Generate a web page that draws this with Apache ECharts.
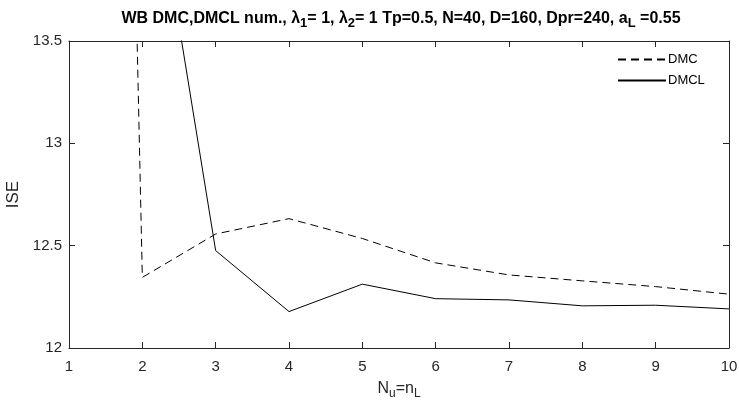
<!DOCTYPE html>
<html>
<head>
<meta charset="utf-8">
<script src="https://cdn.jsdelivr.net/npm/echarts@6/dist/echarts.min.js"></script>
<style>
  html, body { margin: 0; padding: 0; background: #fff; }
  #chart { width: 739px; height: 402px; }
</style>
</head>
<body>
<div id="chart"></div>
<script>
// N_u = n_L
const xValues = [1, 2, 3, 4, 5, 6, 7, 8, 9, 10];
// ISE values (x=1 points lie far above the axis top)
const dmc = [28.6, 12.345, 12.557, 12.632, 12.535, 12.416, 12.357, 12.328, 12.300, 12.263];
const dmcl = [16.0, 14.68, 12.476, 12.178, 12.312, 12.241, 12.235, 12.206, 12.209, 12.191];
const yTicks = [12, 12.5, 13, 13.5];

const axisColor = '#262626';
const font = 'Liberation Sans, Arial, sans-serif';

const chart = echarts.init(document.getElementById('chart'));

chart.setOption({
  animation: false,
  backgroundColor: '#fff',
  title: {
    text: 'WB DMC,DMCL num., {g|λ}{s|1}= 1, {g|λ}{s|2}= 1 Tp=0.5, N=40, D=160, Dpr=240, a{s|L} =0.55',
    left: 396,
    textAlign: 'center',
    top: 2,
    textStyle: {
      fontFamily: font,
      fontSize: 16,
      fontWeight: 'bold',
      color: '#000',
      rich: {
        g: { fontFamily: font, fontSize: 16, fontWeight: 'bold', color: '#000' },
        s: { fontFamily: font, fontSize: 13, fontWeight: 'bold', color: '#000', padding: [10, 0, 0, 0] }
      }
    }
  },
  legend: {
    orient: 'vertical',
    left: 612,
    top: 48,
    itemWidth: 48,
    itemHeight: 10,
    itemGap: 8,
    itemStyle: { opacity: 0 },
    textStyle: { fontFamily: font, fontSize: 13, color: '#000', padding: [0, 0, 0, -3] },
    data: ['DMC', 'DMCL']
  },
  grid: { left: 69, right: 10, top: 41, bottom: 54, containLabel: false, outerBoundsMode: 'none' },
  xAxis: [{
    type: 'value',
    min: 1,
    max: 10,
    interval: 1,
    name: '{n|N}{s|u}{n|=n}{s|L}',
    nameLocation: 'middle',
    nameGap: 30,
    nameTextStyle: {
      rich: {
        n: { fontFamily: font, fontSize: 16, color: axisColor },
        s: { fontFamily: font, fontSize: 12, color: axisColor, padding: [10, 0, 0, 0] }
      }
    },
    axisLine: { onZero: false, lineStyle: { color: axisColor, width: 1 } },
    axisTick: { inside: true, length: 6, lineStyle: { color: axisColor } },
    axisLabel: { fontFamily: font, fontSize: 15, color: axisColor, margin: 11 },
    splitLine: { show: false }
  }, {
    type: 'value',
    position: 'top',
    min: 1,
    max: 10,
    interval: 1,
    axisLine: { onZero: false, lineStyle: { color: axisColor, width: 1 } },
    axisTick: { inside: true, length: 6, lineStyle: { color: axisColor } },
    axisLabel: { show: false },
    splitLine: { show: false }
  }],
  yAxis: [{
    type: 'value',
    min: yTicks[0],
    max: yTicks[yTicks.length - 1],
    interval: 0.5,
    name: 'ISE',
    nameLocation: 'middle',
    nameGap: 46,
    nameTextStyle: { fontFamily: font, fontSize: 17, color: axisColor },
    axisLine: { onZero: false, lineStyle: { color: axisColor, width: 1 } },
    axisTick: { inside: true, length: 6, lineStyle: { color: axisColor } },
    axisLabel: { fontFamily: font, fontSize: 15, color: axisColor, margin: 7 },
    splitLine: { show: false }
  }, {
    type: 'value',
    position: 'right',
    min: yTicks[0],
    max: yTicks[yTicks.length - 1],
    interval: 0.5,
    axisLine: { onZero: false, lineStyle: { color: axisColor, width: 1 } },
    axisTick: { inside: true, length: 6, lineStyle: { color: axisColor } },
    axisLabel: { show: false },
    splitLine: { show: false }
  }],
  series: [{
    name: 'DMC',
    type: 'line',
    data: xValues.map((x, i) => [x, dmc[i]]),
    symbol: 'none',
    clip: true,
    lineStyle: { color: '#000', width: 1, type: [8, 5] },
    itemStyle: { color: '#000' }
  }, {
    name: 'DMCL',
    type: 'line',
    data: xValues.map((x, i) => [x, dmcl[i]]),
    symbol: 'none',
    clip: true,
    lineStyle: { color: '#000', width: 1, type: 'solid' },
    itemStyle: { color: '#000' }
  }]
});
</script>
</body>
</html>
